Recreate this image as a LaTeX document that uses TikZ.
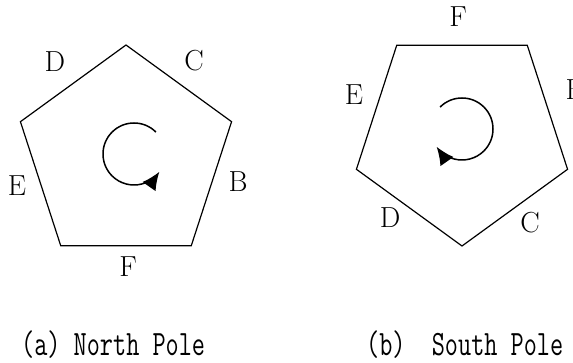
\documentclass[tikz,border=0pt]{standalone}
\usepackage{tikz}
\usetikzlibrary{arrows.meta,positioning}

\begin{document}
\begin{tikzpicture}[x=1pt,y=1pt,line join=miter,
    lbl/.style={font=\fontsize{29}{33}\selectfont,inner sep=0pt},
    captxt/.style={font=\fontsize{25.5}{30}\selectfont\ttfamily,inner sep=0pt,anchor=base west},
    turn/.style={line width=1.5pt,-{Latex[length=18pt,width=16pt]}}]
  \useasboundingbox (0,0) rectangle (573,363);
  % north pole
  \draw[line width=1.2pt,shift={(126,207)}] (90:111) -- (18:111) -- (-54:111) -- (-126:111) -- (162:111) -- cycle;
  \draw[turn] (134,209) ++(45:31) arc (45:325:31);
  \node[lbl] (nD) at (55,301) {D};
  \node[lbl] (nC) at (194,302) {C};
  \node[lbl] (nE) at (17,177) {E};
  \node[lbl] (nB) at (238,181) {B};
  \node[lbl] (nF) at (128,96) {F};
  % south pole
  \draw[line width=1.2pt,shift={(462,228)}] (-90:111) -- (-18:111) -- (54:111) -- (126:111) -- (198:111) -- cycle;
  \draw[turn] (462,234) ++(135:31) arc (135:-145:31);
  \node[lbl] (sF) at (458,346) {F};
  \node[lbl] (sE) at (354,268) {E};
  \node[lbl] (sB) at (575,273) {B};
  \node[lbl] (sD) at (390,145) {D};
  \node[lbl] (sC) at (530,140) {C};
  % captions
  \node[captxt] (capN) at (21,7) {\scalebox{1}[1.4]{(a) North Pole}};
  \node[captxt] (capS) at (366,7) {\scalebox{1}[1.4]{(b)\ \ South Pole}};
\end{tikzpicture}
\end{document}
